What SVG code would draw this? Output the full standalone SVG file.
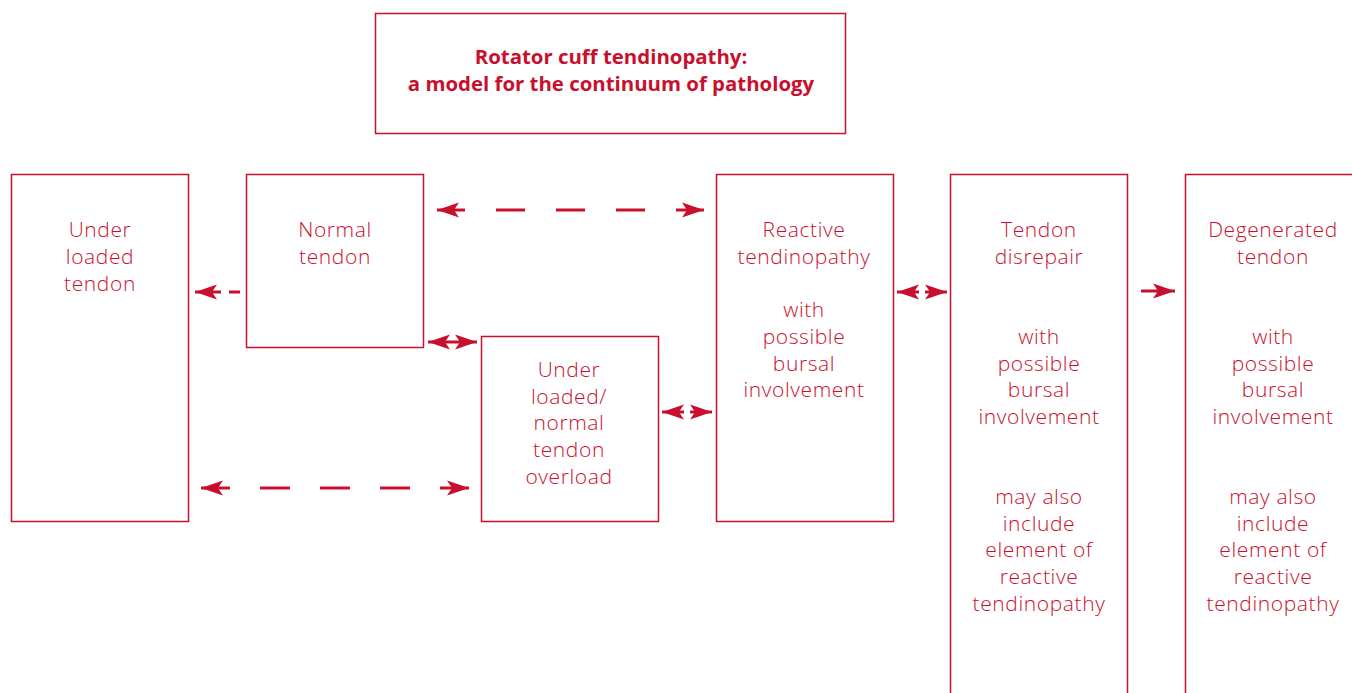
<svg xmlns="http://www.w3.org/2000/svg" width="1352" height="693" viewBox="0 0 1352 693">
<style>
.box{fill:#fff;stroke:#c8102e;stroke-width:1.5}
.t{font-family:"Open Sans","Liberation Sans",sans-serif;font-size:21px;letter-spacing:0.6px;fill:#c8102e;text-anchor:middle;font-weight:300}
.title{font-family:"Open Sans","Liberation Sans",sans-serif;font-size:20.4px;fill:#c8102e;text-anchor:middle;font-weight:700}
.c{stroke:#c8102e;stroke-width:3;fill:none}
</style>
<defs>
<marker id="ah" markerUnits="userSpaceOnUse" markerWidth="24" markerHeight="16" refX="22" refY="8" orient="auto-start-reverse">
<path d="M0,0.5 L22,8 L0,15.5 L5,8 Z" fill="#c8102e"/>
</marker>
</defs>
<rect width="1352" height="693" fill="#fff"/>
<g id="title">
<rect class="box" x="375.5" y="13.5" width="470" height="120"/>
<text class="title" x="611" y="64">Rotator cuff tendinopathy:</text>
<text class="title" x="611" y="91">a model for the continuum of pathology</text>
</g>
<g id="underloaded">
<rect class="box" x="11.5" y="174.5" width="177" height="347"/>
<text class="t" x="100" y="237">Under</text>
<text class="t" x="100" y="264">loaded</text>
<text class="t" x="100" y="291">tendon</text>
</g>
<g id="normal">
<rect class="box" x="246.5" y="174.5" width="177" height="173"/>
<text class="t" x="335" y="237">Normal</text>
<text class="t" x="335" y="264">tendon</text>
</g>
<g id="overload">
<rect class="box" x="481.5" y="336.5" width="177" height="185"/>
<text class="t" x="569" y="377">Under</text>
<text class="t" x="569" y="404">loaded/</text>
<text class="t" x="569" y="430">normal</text>
<text class="t" x="569" y="457">tendon</text>
<text class="t" x="569" y="484">overload</text>
</g>
<g id="reactive">
<rect class="box" x="716.5" y="174.5" width="177" height="347"/>
<text class="t" x="804" y="237">Reactive</text>
<text class="t" x="804" y="264">tendinopathy</text>
<text class="t" x="804" y="317">with</text>
<text class="t" x="804" y="344">possible</text>
<text class="t" x="804" y="371">bursal</text>
<text class="t" x="804" y="397">involvement</text>
</g>
<g id="disrepair">
<rect class="box" x="950.5" y="174.5" width="177" height="530"/>
<text class="t" x="1039" y="237">Tendon</text>
<text class="t" x="1039" y="264">disrepair</text>
<text class="t" x="1039" y="344">with</text>
<text class="t" x="1039" y="371">possible</text>
<text class="t" x="1039" y="397">bursal</text>
<text class="t" x="1039" y="424">involvement</text>
<text class="t" x="1039" y="504">may also</text>
<text class="t" x="1039" y="531">include</text>
<text class="t" x="1039" y="557">element of</text>
<text class="t" x="1039" y="584">reactive</text>
<text class="t" x="1039" y="611">tendinopathy</text>
</g>
<g id="degenerated">
<rect class="box" x="1185.5" y="174.5" width="177" height="530"/>
<text class="t" x="1273" y="237">Degenerated</text>
<text class="t" x="1273" y="264">tendon</text>
<text class="t" x="1273" y="344">with</text>
<text class="t" x="1273" y="371">possible</text>
<text class="t" x="1273" y="397">bursal</text>
<text class="t" x="1273" y="424">involvement</text>
<text class="t" x="1273" y="504">may also</text>
<text class="t" x="1273" y="531">include</text>
<text class="t" x="1273" y="557">element of</text>
<text class="t" x="1273" y="584">reactive</text>
<text class="t" x="1273" y="611">tendinopathy</text>
</g>
<g id="connectors">
<path class="c" d="M465,210 L437,210" marker-end="url(#ah)"/>
<path class="c" d="M496,210 H525 M556,210 H585 M616,210 H645"/>
<path class="c" d="M676,210 L704,210" marker-end="url(#ah)"/>
<path class="c" d="M221,292 L195,292" marker-end="url(#ah)"/>
<path class="c" d="M229,292 H240"/>
<path class="c" d="M428,342 L477,342" marker-start="url(#ah)" marker-end="url(#ah)"/>
<path class="c" d="M684,412 L662,412" marker-end="url(#ah)"/>
<path class="c" d="M690,412 L712,412" marker-end="url(#ah)"/>
<path class="c" d="M919,292 L897,292" marker-end="url(#ah)"/>
<path class="c" d="M925,292 L947,292" marker-end="url(#ah)"/>
<path class="c" d="M1141,291 L1175,291" marker-end="url(#ah)"/>
<path class="c" d="M230,488 L201,488" marker-end="url(#ah)"/>
<path class="c" d="M260,488 H290 M320,488 H350 M380,488 H410"/>
<path class="c" d="M440,488 L469,488" marker-end="url(#ah)"/>
</g>
</svg>
